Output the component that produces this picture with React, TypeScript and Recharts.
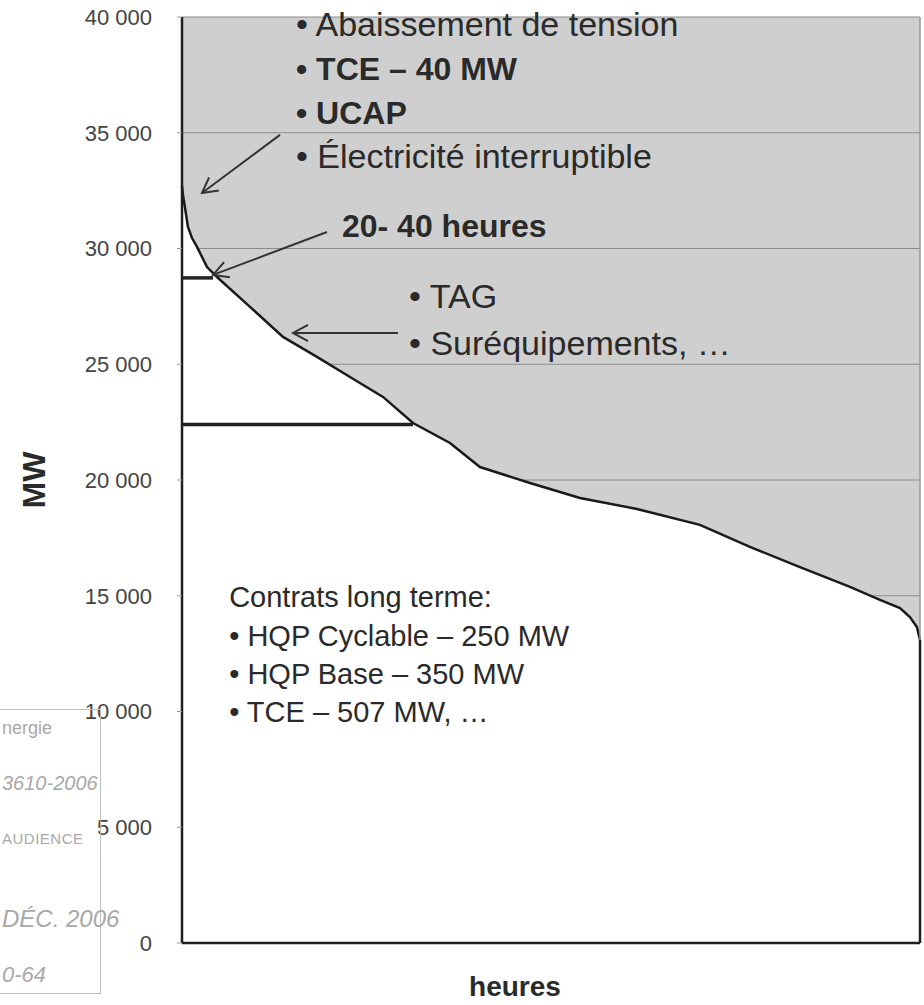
import { ComposedChart, Area, XAxis, YAxis, CartesianGrid, ReferenceLine, ReferenceDot, Label } from 'recharts'

// load duration curve (hours of the year -> MW)
const hours = [0, 12, 36, 71, 119, 178, 297, 415, 807, 1199, 1602, 1994, 2386, 2742, 3181, 3537, 4131, 4724, 5400, 6148, 6741, 7335, 7929, 8285, 8522, 8640, 8723, 8760]
const loadMW = [32700, 32300, 31750, 30930, 30450, 30070, 29200, 28770, 27480, 26180, 25320, 24450, 23590, 22460, 21600, 20560, 19870, 19220, 18750, 18060, 17110, 16240, 15380, 14820, 14470, 14080, 13650, 13090]
const yTicks = [0, 5000, 10000, 15000, 20000, 25000, 30000, 35000, 40000]

// the two horizontal bars drawn from the y axis
const peakLevel = 28730
const peakUntil = 368
const baseLevel = 22400
const baseUntil = 2742

const data = hours.map((h, i) => ({ h, mw: loadMW[i] }))

const FONT = '"Liberation Sans", Arial, Helvetica, sans-serif'
const INK = '#2a2a2a'
const fmt = (v: number) => (v === 0 ? '0' : `${v / 1000} 000`)

// text notes, anchored at (hour, MW) = left end of baseline
const notes = [
  { h: 1353, mw: 39182, text: '• Abaissement de tension', bold: false, size: 34 },
  { h: 1353, mw: 37282, text: '• TCE – 40 MW', bold: true, size: 32 },
  { h: 1353, mw: 35381, text: '• UCAP', bold: true, size: 32 },
  { h: 1353, mw: 33480, text: '• Électricité interruptible', bold: false, size: 34 },
  { h: 1899, mw: 30499, text: '20- 40 heures', bold: true, size: 32 },
  { h: 2695, mw: 27432, text: '• TAG', bold: false, size: 34 },
  { h: 2695, mw: 25402, text: '• Suréquipements, …', bold: false, size: 34 },
  { h: 560, mw: 14500, text: 'Contrats long terme:', bold: false, size: 29 },
  { h: 560, mw: 12850, text: '• HQP Cyclable – 250 MW', bold: false, size: 29 },
  { h: 560, mw: 11200, text: '• HQP Base – 350 MW', bold: false, size: 29 },
  { h: 560, mw: 9550, text: '• TCE – 507 MW, …', bold: false, size: 29 },
]

const arrows = [
  { from: { x: 1163, y: 34906 }, to: { x: 237, y: 32400 } },
  { from: { x: 1721, y: 30715 }, to: { x: 368, y: 28858 } },
  { from: { x: 2564, y: 26352 }, to: { x: 1318, y: 26352 } },
]

const Arrow = (p: any) => {
  const { x1, y1, x2, y2 } = p
  const a = Math.atan2(y2 - y1, x2 - x1)
  const len = 17
  const s = 0.5
  const ax = x2 - len * Math.cos(a - s)
  const ay = y2 - len * Math.sin(a - s)
  const bx = x2 - len * Math.cos(a + s)
  const by = y2 - len * Math.sin(a + s)
  return (
    <g stroke="#333" strokeWidth={2} fill="none">
      <line x1={x1} y1={y1} x2={x2} y2={y2} />
      <polyline points={`${ax},${ay} ${x2},${y2} ${bx},${by}`} />
    </g>
  )
}

const stampText: React.CSSProperties = { position: 'absolute', left: 2, color: '#a8a8a8', fontFamily: FONT, whiteSpace: 'nowrap' }

const App = () => {
  return (
    <div style={{ position: 'absolute', left: 0, top: 0, width: 924, height: 1005, background: '#fff', overflow: 'hidden' }}>
      <ComposedChart width={924} height={1005} data={data} margin={{ top: 17, right: 4, bottom: 0, left: 0 }}>
        <CartesianGrid horizontal vertical={false} fill="#cfcfcf" fillOpacity={1} stroke="#8c8c8c" />
        <XAxis
          dataKey="h"
          type="number"
          domain={[0, 8760]}
          tick={false}
          tickLine={false}
          height={62}
          axisLine={{ stroke: '#1e1e1e', strokeWidth: 2.5 }}
          label={
            <Label
              content={(p: any) => {
                const vb = p.viewBox
                return (
                  <text x={vb.x + vb.width / 2 - 36} y={vb.y + 53} textAnchor="middle" fontFamily={FONT} fontWeight="bold" fontSize={28} fill={INK}>
                    heures
                  </text>
                )
              }}
            />
          }
        />
        <YAxis
          type="number"
          domain={[0, 40000]}
          ticks={yTicks}
          width={182}
          tickFormatter={fmt}
          tickSize={5}
          tickMargin={25}
          tickLine={{ stroke: '#999' }}
          tick={{ fill: '#444', fontSize: 22, fontFamily: FONT }}
          axisLine={{ stroke: '#1e1e1e', strokeWidth: 2.5 }}
          label={
            <Label
              content={(p: any) => {
                const vb = p.viewBox
                const cx = vb.x + 34
                const cy = vb.y + vb.height / 2
                return (
                  <text x={cx} y={cy} transform={`rotate(-90 ${cx} ${cy})`} textAnchor="middle" dominantBaseline="central" fontFamily={FONT} fontWeight="bold" fontSize={32} fill={INK}>
                    MW
                  </text>
                )
              }}
            />
          }
        />
        <Area
          type="linear"
          dataKey="mw"
          stroke="#1a1a1a"
          strokeWidth={2.5}
          fill="#ffffff"
          fillOpacity={1}
          dot={false}
          activeDot={false}
          isAnimationActive={false}
        />
        <ReferenceLine x={8760} stroke="#999" strokeWidth={1.5} />
        <ReferenceLine segment={[{ x: 8760, y: 0 }, { x: 8760, y: loadMW[loadMW.length - 1] }]} stroke="#1e1e1e" strokeWidth={2.5} />
        <ReferenceLine segment={[{ x: 0, y: peakLevel }, { x: peakUntil, y: peakLevel }]} stroke="#222" strokeWidth={3.5} />
        <ReferenceLine segment={[{ x: 0, y: baseLevel }, { x: baseUntil, y: baseLevel }]} stroke="#222" strokeWidth={3.5} />
        {arrows.map((a, i) => (
          <ReferenceLine key={`ar${i}`} segment={[a.from, a.to]} shape={Arrow} />
        ))}
        {notes.map((n, i) => (
          <ReferenceDot
            key={`n${i}`}
            x={n.h}
            y={n.mw}
            r={1}
            shape={(p: any) => (
              <text x={p.cx} y={p.cy} fontFamily={FONT} fontSize={n.size} fontWeight={n.bold ? 'bold' : 'normal'} fill={INK}>
                {n.text}
              </text>
            )}
          />
        ))}
      </ComposedChart>

      {/* stamp of the scanned document, bottom left */}
      <div style={{ position: 'absolute', left: -4, top: 709, width: 103, height: 283, border: '1.5px solid #bdbdbd' }} />
      <div style={{ ...stampText, top: 718, fontSize: 18 }}>nergie</div>
      <div style={{ ...stampText, top: 772, fontSize: 20, fontStyle: 'italic' }}>3610-2006</div>
      <div style={{ ...stampText, top: 830, fontSize: 15, letterSpacing: 0.5 }}>AUDIENCE</div>
      <div style={{ ...stampText, top: 905, fontSize: 24, fontStyle: 'italic' }}>DÉC. 2006</div>
      <div style={{ ...stampText, top: 962, fontSize: 22, fontStyle: 'italic' }}>0-64</div>
    </div>
  )
}

export default App
